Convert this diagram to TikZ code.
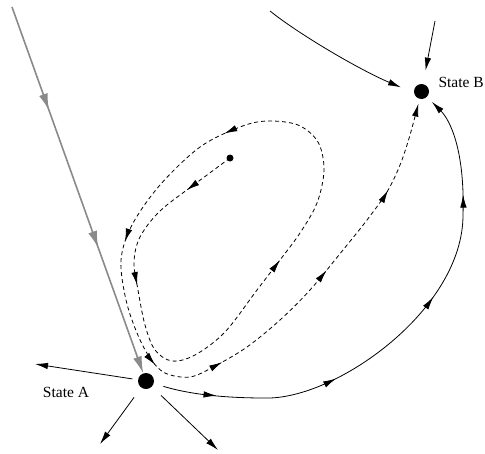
\documentclass[tikz,border=0pt]{standalone}
\usepackage{fontspec}
\setmainfont{Liberation Serif}
\usetikzlibrary{arrows.meta,decorations.markings}
\definecolor{grayln}{RGB}{138,138,138}
\tikzset{
  bigdot/.style={circle, fill=black, draw=none, inner sep=0pt, minimum size=#1},
  lbl/.style={inner sep=0pt, font=\fontsize{15.5}{18}\selectfont},
  blk/.tip={Latex[length=13pt,width=6.5pt]},
  gry/.tip={Latex[length=17pt,width=9pt]},
  sline/.style={line width=0.8pt, draw=black, -{blk}},
  dline/.style={line width=0.8pt, draw=black, dash pattern=on 4pt off 3pt, -{blk}},
  gline/.style={line width=1.6pt, draw=grayln, -{gry}},
  marr/.style={postaction={decorate, solid, decoration={markings, mark=at position #1 with {\arrow{blk}}}}},
  garr/.style={postaction={decorate, solid, decoration={markings, mark=at position #1 with {\arrow{gry}}}}}
}
\begin{document}
\begin{tikzpicture}[x=1pt, y=-1pt]
\useasboundingbox (0,0) rectangle (485,453);
% states
\node[bigdot=16pt] (A) at (146,381) {};
\node[bigdot=15pt] (B) at (421.5,91.5) {};
\node[bigdot=7pt] (S) at (230,158) {};
\node[lbl, anchor=base] (LA) at (66,397.7) {State A};
\node[lbl, anchor=base west] (LB) at (438.3,87) {State B};
% free ends
\coordinate (g0) at (12,7);
\coordinate (cL) at (35,364);
\coordinate (cDL) at (100,444);
\coordinate (cDR) at (218,450);
\coordinate (t0) at (270,11);
\coordinate (t1) at (435,21);
% gray incoming line
\draw[gline, garr=110pt, garr=256pt] (g0) -- (A);
% outgoing from A
\draw[sline, shorten <=5.6pt] (A) -- (cL);
\draw[sline, shorten <=12pt] (A) -- (cDL);
\draw[sline, shorten <=12.5pt] (A) -- (cDR);
% solid A -> B
\draw[sline, shorten <=10pt, shorten >=7pt, marr=64pt, marr=187pt, marr=315pt, marr=424pt]
  (A) .. controls (195,396) and (235,398) .. (265,398)
      .. controls (335,400) and (463,310) .. (463,215)
      .. controls (465,150) and (450,120) .. (B.-45);
% incoming to B
\draw[sline, shorten >=14pt] (t0) .. controls (300,35) and (360,70) .. (B.190);
\draw[sline, shorten >=13.5pt] (t1) -- (B);
% dashed path S -> B
\draw[dline, shorten >=12.5pt, marr=54pt, marr=170pt, marr=411pt, marr=645pt, marr=795pt, marr=926pt, marr=1000pt, marr=1140pt, marr=1241pt]
  plot[smooth, tension=0.55] coordinates {(S) (195,184) (160,211) (140,237) (134,262) (138,290) (145,325) (155,350) (172,361) (195,355) (225,332) (257,290) (280,260) (300,233) (317,203) (324,170) (318,142) (298,125) (267,121) (240,127) (200,147) (160,185) (132,225) (121,260) (126,300) (137,333) (150,358) (165,373) (190,377) (215,366) (247,347) (280,320) (310,290) (343,250) (367,220) (387,192) (400,165) (410,135) (B)};
\end{tikzpicture}
\end{document}
